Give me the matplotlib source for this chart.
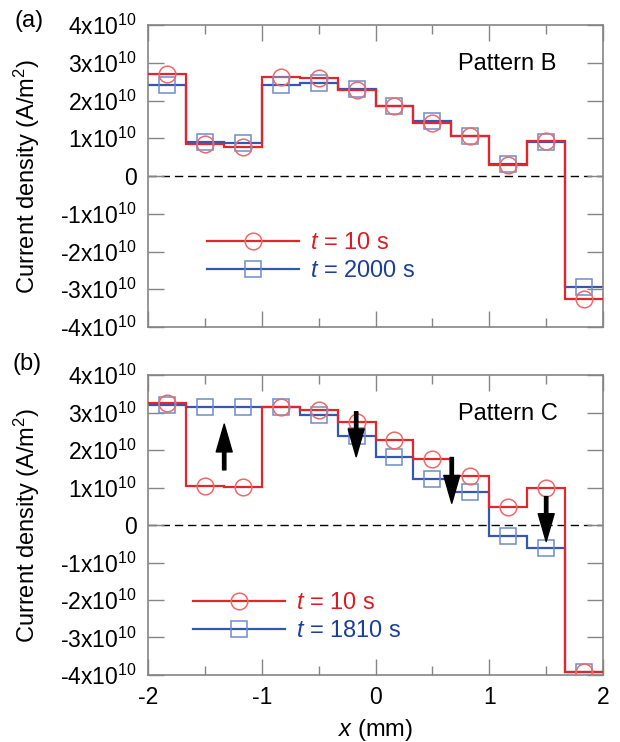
import numpy as np
import matplotlib
matplotlib.use('Agg')
import matplotlib.pyplot as plt
from matplotlib.ticker import MultipleLocator, FuncFormatter
from matplotlib.lines import Line2D

plt.rcParams['font.family'] = ['Liberation Sans', 'DejaVu Sans']
plt.rcParams['mathtext.fontset'] = 'custom'
plt.rcParams['mathtext.rm'] = 'Liberation Sans'
plt.rcParams['mathtext.it'] = 'Liberation Sans:italic'
plt.rcParams['axes.unicode_minus'] = False

# 12 electrode segments from -2 to 2 mm
x_edges = np.linspace(-2, 2, 13)
x_mid = (x_edges[:-1] + x_edges[1:]) / 2

# current density, units of 1e10 A/m^2
# Pattern B
b_t10 = [2.71, 0.85, 0.78, 2.61, 2.59, 2.28, 1.85, 1.41, 1.07, 0.29, 0.94, -3.25]
b_t2000 = [2.41, 0.90, 0.88, 2.41, 2.47, 2.31, 1.85, 1.47, 1.07, 0.32, 0.91, -2.94]
# Pattern C
c_t10 = [3.26, 1.04, 1.01, 3.16, 3.07, 2.74, 2.27, 1.75, 1.30, 0.49, 0.98, -3.93]
c_t1810 = [3.20, 3.15, 3.16, 3.16, 2.93, 2.37, 1.82, 1.22, 0.87, -0.29, -0.60, -3.93]

# arrows in panel (b)
arrow_x = [-1.33, -0.17, 0.67, 1.5]
arrow_from = [1.47, 3.02, 1.80, 0.76]
arrow_to = [2.69, 1.82, 0.58, -0.44]

RED = '#e3262b'
RED_M = '#ee6a6a'
RED_TXT = '#d81e24'
BLUE = '#3457b0'
BLUE_M = '#6d8bcb'
BLUE_TXT = '#1d3f9c'
FRAME = '#858585'
FS = 17


def tick_fmt(v, pos):
    n = int(round(v / 1e10))
    if n == 0:
        return '0'
    return '%dx$10^{10}$' % n


def draw_panel(ax, red_vals, blue_vals, blue_label, pattern, leg_anchor):
    red_vals = np.array(red_vals) * 1e10
    blue_vals = np.array(blue_vals) * 1e10

    ax.axhline(0, color='k', lw=1.0, dashes=(6, 3.5), zorder=1)
    ax.stairs(blue_vals, x_edges, baseline=None, color=BLUE, lw=1.6, zorder=2)
    ax.stairs(red_vals, x_edges, baseline=None, color=RED, lw=1.6, zorder=3)
    ax.plot(x_mid, blue_vals, 's', ms=12, mfc='none', mec=BLUE_M, mew=1.1, zorder=4)
    ax.plot(x_mid, red_vals, 'o', ms=12, mfc='none', mec=RED_M, mew=1.1, zorder=4)

    ax.set_xlim(-2, 2)
    ax.set_ylim(-4e10, 4e10)
    ax.xaxis.set_major_locator(MultipleLocator(1))
    ax.xaxis.set_minor_locator(MultipleLocator(0.5))
    ax.yaxis.set_major_locator(MultipleLocator(1e10))
    ax.yaxis.set_major_formatter(FuncFormatter(tick_fmt))
    ax.tick_params(which='both', direction='in', top=True, right=True,
                   color=FRAME, width=1.0, labelsize=16.5)
    ax.tick_params(which='major', length=11.5, pad=8)
    ax.tick_params(which='minor', length=6.5)
    for s in ax.spines.values():
        s.set_color(FRAME)
        s.set_linewidth(1.2)

    ax.set_ylabel('Current density (A/m$^2$)', fontsize=FS)
    ax.yaxis.set_label_coords(-0.233, 0.5)
    ax.text(1.16, 2.97e10, pattern, fontsize=FS, ha='center', va='center')

    handles = [
        Line2D([], [], color=RED, lw=1.6, marker='o', ms=12, mfc='none', mec=RED_M, mew=1.1),
        Line2D([], [], color=BLUE, lw=1.6, marker='s', ms=12, mfc='none', mec=BLUE_M, mew=1.1),
    ]
    ax.legend(handles, ['$t$ = 10 s', '$t$ = %s s' % blue_label],
              loc='upper left', bbox_to_anchor=leg_anchor, frameon=False,
              fontsize=FS, handlelength=3.9, handletextpad=0.45,
              labelspacing=0.25, borderpad=0, borderaxespad=0, numpoints=1,
              labelcolor=[RED_TXT, BLUE_TXT])


fig = plt.figure(figsize=(6.2, 7.42), dpi=100)
ax1 = fig.add_axes([0.2387, 0.5593, 0.734, 0.407])
ax2 = fig.add_axes([0.2387, 0.0903, 0.734, 0.4043])

draw_panel(ax1, b_t10, b_t2000, '2000', 'Pattern B', (0.13, 0.315))
draw_panel(ax2, c_t10, c_t1810, '1810', 'Pattern C', (0.099, 0.277))

ax1.tick_params(labelbottom=False)
ax2.set_xlabel('$x$ (mm)', fontsize=FS, labelpad=6)

for x, y0, y1 in zip(arrow_x, arrow_from, arrow_to):
    ax2.annotate('', xy=(x, y1 * 1e10), xytext=(x, y0 * 1e10),
                 arrowprops=dict(facecolor='k', edgecolor='k', width=2.4,
                                 headwidth=11.5, headlength=20, shrink=0),
                 zorder=6)

fig.text(29 / 620, 1 - 21 / 742, '(a)', fontsize=FS, ha='center', va='center')
fig.text(27 / 620, 1 - 364 / 742, '(b)', fontsize=FS, ha='center', va='center')

fig.savefig('out.png', dpi=100)
